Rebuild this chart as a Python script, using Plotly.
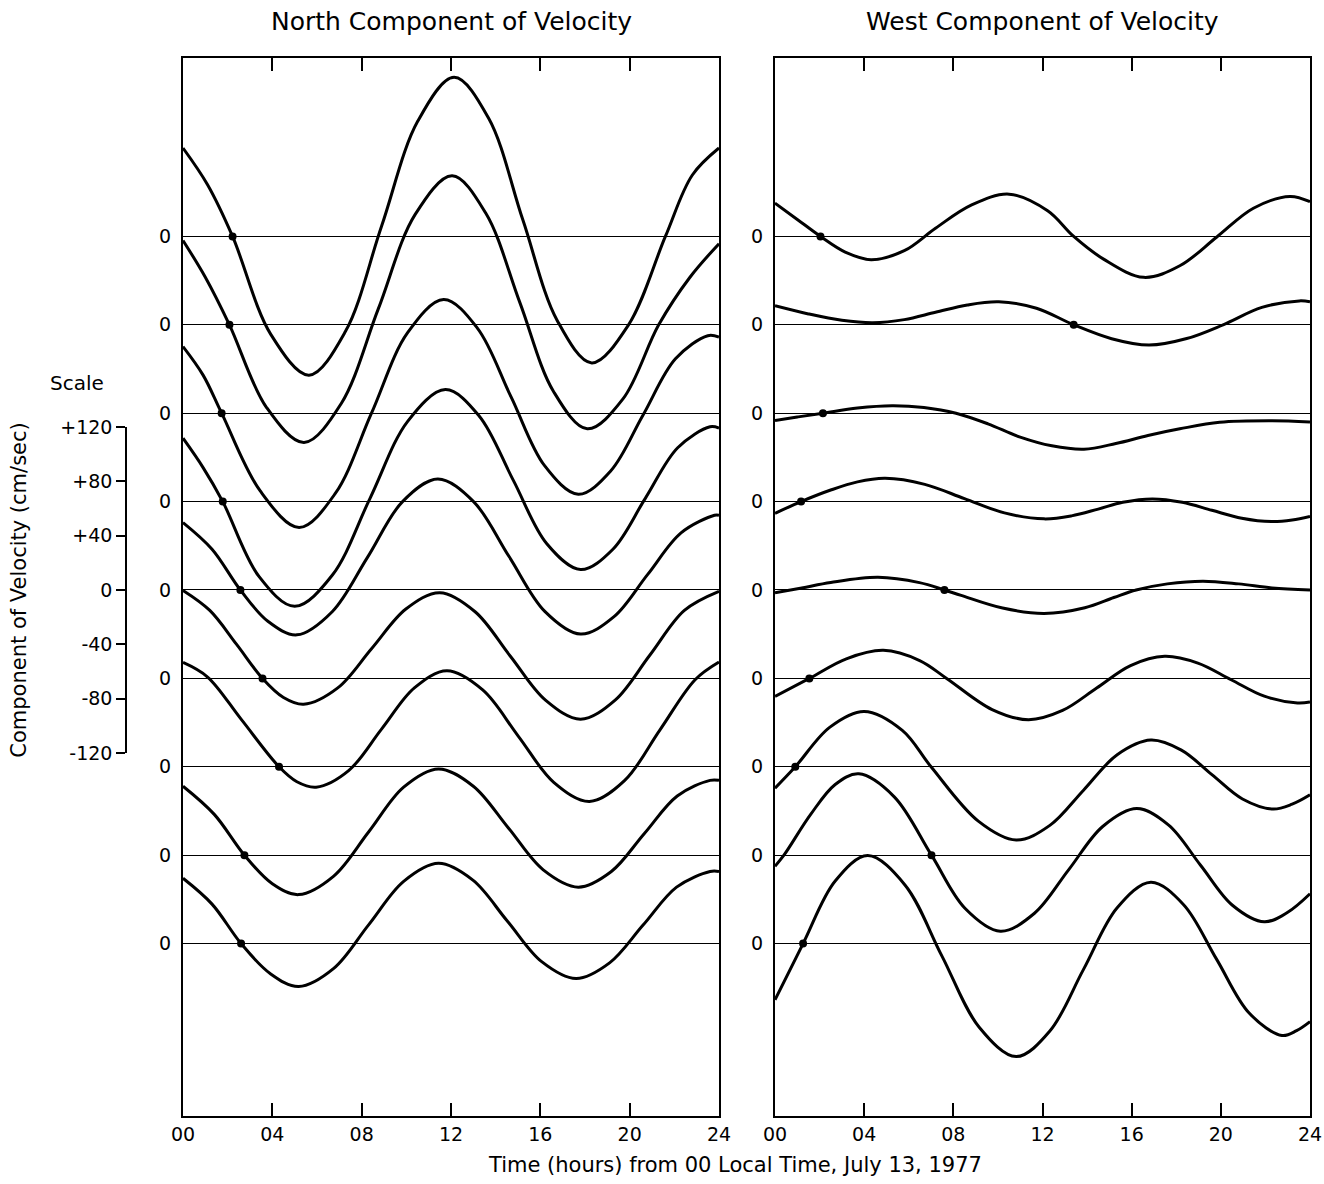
import plotly.graph_objects as go

# ---------------- data ----------------
HOUR_TICKS = [0, 4, 8, 12, 16, 20, 24]
HOUR_LABELS = ["00", "04", "08", "12", "16", "20", "24"]
SCALE_TICKS = [120, 80, 40, 0, -40, -80, -120]
SCALE_LABELS = ["+120", "+80", "+40", "0", "-40", "-80", "-120"]

# North component of velocity (cm/sec), nine records, top to bottom
N1_T = [0, 1.1, 2.22, 3.93, 5.64, 7.27, 8.89, 10.52, 12.14, 13.68, 15.22, 16.76, 18.3, 19.95, 21.6, 22.8, 24]
N1_V = [65, 38, 0, -72, -102, -70, 7.5, 85, 117, 87, 12, -62, -93, -65, 0, 45, 65]
N2_T = [0, 1.0, 2.08, 3.75, 5.42, 7.08, 8.74, 10.39, 12.05, 13.56, 15.08, 16.59, 18.1, 19.7, 21.3, 22.7, 24]
N2_V = [62, 35, 0, -61, -86.5, -58, 11.5, 81, 109.6, 82, 16.5, -49, -76.5, -54.5, 0, 35, 59.6]
N3_T = [0, 0.9, 1.73, 3.45, 5.2, 6.82, 8.44, 10.05, 11.67, 13.18, 14.69, 16.19, 17.7, 19.15, 20.6, 22.05, 23.5, 24]
N3_V = [49, 28, 0, -57, -84, -59, 0, 59, 83.6, 62.6, 12, -38.6, -59.6, -42.5, -1.3, 40, 57, 56]
N4_T = [0, 0.9, 1.78, 3.4, 5.0, 6.69, 8.38, 10.06, 11.75, 13.26, 14.78, 16.29, 17.8, 19.25, 20.7, 22.15, 23.6, 24]
N4_V = [46.6, 25, 0, -55, -77, -54, 2.6, 59, 82.4, 63, 16, -31, -50, -35, 2.4, 39.6, 55, 54]
N5_T = [0, 1.3, 2.57, 3.8, 5.1, 6.68, 8.26, 9.83, 11.41, 13.01, 14.6, 16.2, 17.8, 19.3, 20.8, 22.3, 23.8, 24]
N5_V = [49.6, 30, 0, -23, -33, -16, 24, 65, 81.6, 65, 24.6, -15.7, -32.4, -19.6, 11.3, 42, 55, 55]
N6_T = [0, 1.2, 2.4, 3.56, 4.5, 5.4, 6.93, 8.45, 9.98, 11.5, 13.08, 14.65, 16.23, 17.8, 19.35, 20.9, 22.45, 24]
N6_V = [64.7, 50, 25, 0, -14, -19, -7, 22, 51, 63, 49, 16.5, -16, -30, -16, 17, 50, 64]
N7_T = [0, 1.1, 2.6, 4.3, 5.1, 5.96, 7.43, 8.89, 10.36, 11.82, 13.42, 15.01, 16.6, 18.2, 19.78, 21.35, 22.93, 24]
N7_V = [76.7, 66, 35, 0, -11, -15, -2.6, 27.7, 58, 70.6, 56.5, 22.6, -11.4, -25.5, -10, 27, 64, 77]
N8_T = [0, 1.4, 2.75, 4.0, 5.18, 6.75, 8.31, 9.88, 11.44, 13.0, 14.57, 16.13, 17.7, 19.18, 20.65, 22.13, 23.6, 24]
N8_V = [50.7, 30, 0, -21, -29, -15.4, 17, 50, 63.4, 50.7, 20, -10.8, -23.5, -12, 15.8, 43.5, 55, 55]
N9_T = [0, 1.3, 2.6, 3.9, 5.18, 6.75, 8.31, 9.88, 11.44, 12.98, 14.52, 16.06, 17.6, 19.1, 20.6, 22.1, 23.6, 24]
N9_V = [48, 29, 0, -22, -31.6, -18.3, 13.7, 45.7, 59, 46.6, 16.6, -13.3, -25.7, -14.2, 13.6, 41.5, 53, 53]

# West component of velocity (cm/sec), nine records, top to bottom
W1_T = [0, 1.0, 2.04, 3.15, 4.31, 5.8, 7.2, 8.8, 10.5, 12.23, 13.4, 14.74, 16.54, 18.18, 19.82, 21.46, 23.1, 24]
W1_V = [24.5, 12.5, 0, -11.5, -17.1, -10.5, 6, 23, 31.1, 18.9, 0, -16.7, -30.1, -21.4, -0.4, 20.7, 29.4, 25.5]
W2_T = [0, 1.5, 3.0, 4.39, 5.8, 7.2, 8.63, 10.04, 11.73, 13.4, 15.1, 16.78, 18.47, 20.1, 21.84, 23.52, 24]
W2_V = [14, 8, 3.3, 1.5, 3.8, 9.2, 14.6, 16.9, 12.2, 0, -10.2, -14.9, -10.1, 0, 12.8, 17.6, 17]
W3_T = [0, 1.0, 2.15, 3.7, 5.25, 6.68, 8.12, 9.55, 11.0, 12.42, 13.86, 15.29, 16.73, 18.16, 19.95, 22.3, 24]
W3_V = [-5.4, -2.8, 0, 3.8, 5.5, 4.2, 0, -7.8, -17.6, -24, -26.5, -22.3, -16.4, -11.5, -6.6, -5.5, -6.4]
W4_T = [0, 1.17, 2.5, 3.7, 4.94, 6.72, 8.5, 10.29, 12.07, 13.3, 14.5, 15.6, 16.93, 18.27, 19.6, 20.94, 22.27, 23.2, 24]
W4_V = [-8.6, 0, 8.5, 14.5, 17.1, 12.7, 2.2, -8.3, -12.7, -10.5, -5.5, -0.5, 2.0, -0.5, -6.4, -12.2, -14.7, -13.6, -11]
W5_T = [0, 1.2, 2.5, 4.62, 6.48, 7.6, 8.35, 10.21, 12.07, 13.9, 15.2, 16.2, 17.6, 19.2, 20.8, 22.3, 24]
W5_V = [-2, 1.5, 5.5, 9.3, 5.4, 0, -4, -13.3, -17.2, -13, -5.5, 0, 4.5, 6.5, 4.5, 1.5, 0]
W6_T = [0, 1.54, 3.2, 4.86, 6.49, 7.7, 9.74, 11.37, 12.9, 14.43, 15.95, 17.48, 18.97, 20.46, 21.95, 23.44, 24]
W6_V = [-13.2, 0, 14.4, 20.6, 13.1, 0, -22.9, -30.4, -23.6, -7.1, 9.4, 16.2, 11.2, -1, -13.1, -18.1, -17.4]
W7_T = [0, 0.91, 2.45, 4.0, 5.71, 7.0, 9.12, 10.82, 12.33, 13.84, 15.35, 16.86, 18.23, 19.6, 20.97, 22.34, 23.2, 24]
W7_V = [-15.7, 0, 29, 40.7, 26.8, 0, -40, -53.9, -43.1, -17.2, 8.8, 19.6, 12.2, -5.8, -23.7, -31.1, -27.5, -20.6]
W8_T = [0, 0.4, 1.6, 2.7, 3.76, 5.35, 7.02, 8.52, 10.11, 11.64, 13.17, 14.7, 16.23, 17.66, 19.09, 20.52, 21.95, 23.0, 24]
W8_V = [-8.1, 0, 30, 52, 59.8, 42.9, 0, -39, -55.9, -42.7, -10.8, 21.1, 34.3, 22.1, -7.4, -36.8, -49, -42, -28.4]
W9_T = [0, 1.26, 2.7, 4.16, 5.83, 7.49, 9.16, 10.82, 12.33, 13.84, 15.35, 16.86, 18.33, 19.8, 21.27, 22.74, 23.4, 24]
W9_V = [-41.4, 0, 46, 64.7, 43.1, -9.2, -61.5, -83.1, -64.3, -19, 26.3, 45.1, 28.6, -11.25, -51.1, -67.6, -64, -57.4]

# hour at which each record's dot sits on its zero line
NORTH_DOT_T = [2.22, 2.08, 1.73, 1.78, 2.57, 3.56, 4.3, 2.75, 2.6]
WEST_DOT_T = [2.04, 13.4, 2.15, 1.17, 7.6, 1.54, 0.91, 7.02, 1.26]

NORTH = [(N1_T, N1_V), (N2_T, N2_V), (N3_T, N3_V), (N4_T, N4_V), (N5_T, N5_V),
         (N6_T, N6_V), (N7_T, N7_V), (N8_T, N8_V), (N9_T, N9_V)]
WEST = [(W1_T, W1_V), (W2_T, W2_V), (W3_T, W3_V), (W4_T, W4_V), (W5_T, W5_V),
        (W6_T, W6_V), (W7_T, W7_V), (W8_T, W8_V), (W9_T, W9_V)]

# ---------------- layout constants ----------------
SPACING = 65  # cm/sec between successive zero lines
OFFSETS = [(4 - i) * SPACING for i in range(9)]
Y_RANGE = [-386.8, 391.2]
FONT = "DejaVu Sans"
W, H = 1324, 1184

fig = go.Figure()

for curves, dots, xa, ya in [(NORTH, NORTH_DOT_T, "x", "y"), (WEST, WEST_DOT_T, "x2", "y2")]:
    for (t, v), off in zip(curves, OFFSETS):
        fig.add_trace(go.Scatter(
            x=t, y=[off + val for val in v], mode="lines",
            line=dict(color="black", width=3, shape="spline", smoothing=1.0),
            xaxis=xa, yaxis=ya, showlegend=False, hoverinfo="skip"))
    fig.add_trace(go.Scatter(
        x=dots, y=OFFSETS, mode="markers",
        marker=dict(color="black", size=8),
        xaxis=xa, yaxis=ya, showlegend=False, hoverinfo="skip"))

# invisible trace so the scale axis (its own small subplot in the margin) is drawn
fig.add_trace(go.Scatter(x=[0], y=[0], mode="markers", marker=dict(opacity=0),
                         xaxis="x3", yaxis="y3", showlegend=False, hoverinfo="skip"))

tickfont = dict(family=FONT, size=19, color="black")

xcommon = dict(range=[0, 24], tickvals=HOUR_TICKS, ticktext=HOUR_LABELS,
               ticks="inside", ticklen=13, tickwidth=1.5, tickcolor="black",
               showline=True, linecolor="black", linewidth=2, mirror="ticks",
               showgrid=False, zeroline=False, tickfont=tickfont, automargin=False)
ycommon = dict(range=Y_RANGE, tickvals=OFFSETS, ticktext=["0"] * 9, ticks="",
               showline=True, linecolor="black", linewidth=2, mirror=True,
               showgrid=True, gridcolor="black", gridwidth=1, zeroline=False,
               tickfont=tickfont, ticklabelstandoff=6, automargin=False,
               domain=[1 - 1116 / H, 1 - 58 / H])

fig.update_layout(
    template="none",
    width=W, height=H,
    margin=dict(l=0, r=0, t=0, b=0, pad=0),
    paper_bgcolor="white", plot_bgcolor="rgba(0,0,0,0)",
    font=dict(family=FONT, color="black"),
    xaxis=dict(domain=[183 / W, 719 / W], anchor="y", **xcommon),
    xaxis2=dict(domain=[775 / W, 1310 / W], anchor="y2", **xcommon),
    xaxis3=dict(domain=[127 / W, 140 / W], anchor="y3", visible=False, range=[0, 1]),
    yaxis=dict(anchor="x", **ycommon),
    yaxis2=dict(anchor="x2", **ycommon),
    yaxis3=dict(domain=[1 - 753 / H, 1 - 427 / H], range=[-120, 120], anchor="x3",
                side="left", tickvals=SCALE_TICKS, ticktext=SCALE_LABELS,
                ticks="outside", ticklen=9, tickwidth=1.5, tickcolor="black",
                showline=True, linewidth=1.5, linecolor="black", showgrid=False,
                zeroline=False, tickfont=tickfont, automargin=False,
                title=dict(text="Component of Velocity (cm/sec)",
                           font=dict(family=FONT, size=21, color="black"), standoff=28)),
    annotations=[
        dict(text="North Component of Velocity", x=451 / W, y=1 - 21 / H, xref="paper", yref="paper",
             xanchor="center", yanchor="middle", showarrow=False,
             font=dict(family=FONT, size=25, color="black")),
        dict(text="West Component of Velocity", x=1042.5 / W, y=1 - 21 / H, xref="paper", yref="paper",
             xanchor="center", yanchor="middle", showarrow=False,
             font=dict(family=FONT, size=25, color="black")),
        dict(text="Time (hours) from 00 Local Time, July 13, 1977", x=735 / W, y=1 - 1165 / H,
             xref="paper", yref="paper", xanchor="center", yanchor="middle", showarrow=False,
             font=dict(family=FONT, size=21, color="black")),
        dict(text="Scale", x=77 / W, y=1 - 383 / H, xref="paper", yref="paper",
             xanchor="center", yanchor="middle", showarrow=False,
             font=dict(family=FONT, size=20, color="black")),
    ],
)

# the page's default body margin would shift the 1324x1184 figure; remove it
fig.write_html("out.html",
               config={"displayModeBar": False},
               post_script="document.body.style.margin='0';document.body.style.overflow='hidden';")
